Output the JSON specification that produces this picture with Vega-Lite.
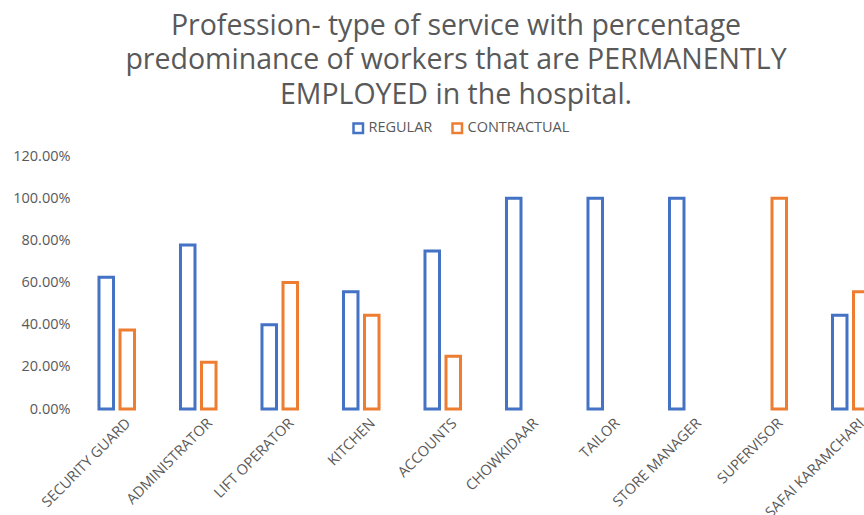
{
  "$schema": "https://vega.github.io/schema/vega-lite/v6.json",
  "autosize": {"type": "none"},
  "width": 788,
  "height": 253,
  "padding": {"left": 76, "top": 156, "right": 0, "bottom": 106},
  "background": "white",
  "title": {
    "text": ["Profession- type of service with percentage", "predominance of workers that are PERMANENTLY", "EMPLOYED in the hospital."],
    "font": "Open Sans",
    "fontSize": 28.5,
    "fontWeight": "normal",
    "color": "#595959",
    "lineHeight": 34.5,
    "anchor": "middle",
    "dx": -14,
    "offset": 12
  },
  "config": {"view": {"stroke": null}},
  "data": {
    "values": [
      {"category": "SECURITY GUARD", "type": "REGULAR", "value": 0.625},
      {"category": "SECURITY GUARD", "type": "CONTRACTUAL", "value": 0.375},
      {"category": "ADMINISTRATOR", "type": "REGULAR", "value": 0.7778},
      {"category": "ADMINISTRATOR", "type": "CONTRACTUAL", "value": 0.2222},
      {"category": "LIFT OPERATOR", "type": "REGULAR", "value": 0.4},
      {"category": "LIFT OPERATOR", "type": "CONTRACTUAL", "value": 0.6},
      {"category": "KITCHEN", "type": "REGULAR", "value": 0.5556},
      {"category": "KITCHEN", "type": "CONTRACTUAL", "value": 0.4444},
      {"category": "ACCOUNTS", "type": "REGULAR", "value": 0.75},
      {"category": "ACCOUNTS", "type": "CONTRACTUAL", "value": 0.25},
      {"category": "CHOWKIDAAR", "type": "REGULAR", "value": 1.0},
      {"category": "TAILOR", "type": "REGULAR", "value": 1.0},
      {"category": "STORE MANAGER", "type": "REGULAR", "value": 1.0},
      {"category": "SUPERVISOR", "type": "CONTRACTUAL", "value": 1.0},
      {"category": "SAFAI KARAMCHARI", "type": "REGULAR", "value": 0.4444},
      {"category": "SAFAI KARAMCHARI", "type": "CONTRACTUAL", "value": 0.5556}
    ]
  },
  "mark": {"type": "bar", "fill": "white", "strokeWidth": 3},
  "encoding": {
    "x": {
      "field": "category",
      "type": "nominal",
      "sort": ["SECURITY GUARD", "ADMINISTRATOR", "LIFT OPERATOR", "KITCHEN", "ACCOUNTS", "CHOWKIDAAR", "TAILOR", "STORE MANAGER", "SUPERVISOR", "SAFAI KARAMCHARI"],
      "scale": {"range": [0, 815], "paddingInner": 0.564, "paddingOuter": 0.282},
      "axis": {
        "title": null,
        "labelAngle": -45,
        "labelFont": "Open Sans",
        "labelFontSize": 14.5,
        "labelColor": "#595959",
        "labelPadding": 7,
        "labelOffset": 7,
        "labelLimit": 200,
        "domain": false,
        "ticks": false
      }
    },
    "xOffset": {
      "field": "type",
      "type": "nominal",
      "scale": {"domain": ["REGULAR", "CONTRACTUAL"], "paddingInner": 0.31}
    },
    "y": {
      "field": "value",
      "type": "quantitative",
      "scale": {"domain": [0, 1.2]},
      "axis": {
        "title": null,
        "values": [0, 0.2, 0.4, 0.6, 0.8, 1.0, 1.2],
        "format": ".2%",
        "labelFont": "Open Sans",
        "labelFontSize": 14.5,
        "labelColor": "#595959",
        "labelPadding": 6,
        "domain": false,
        "ticks": false,
        "grid": false
      }
    },
    "stroke": {
      "field": "type",
      "type": "nominal",
      "scale": {"domain": ["REGULAR", "CONTRACTUAL"], "range": ["#4472C4", "#ED7D31"]},
      "legend": {
        "title": null,
        "orient": "none",
        "direction": "horizontal",
        "legendX": 275,
        "legendY": -35,
        "symbolType": "square",
        "symbolFillColor": "white",
        "symbolStrokeWidth": 2.5,
        "symbolSize": 90,
        "labelFont": "Open Sans",
        "labelFontSize": 14.5,
        "labelColor": "#595959",
        "columnPadding": 14,
        "labelOffset": 3
      }
    }
  }
}
